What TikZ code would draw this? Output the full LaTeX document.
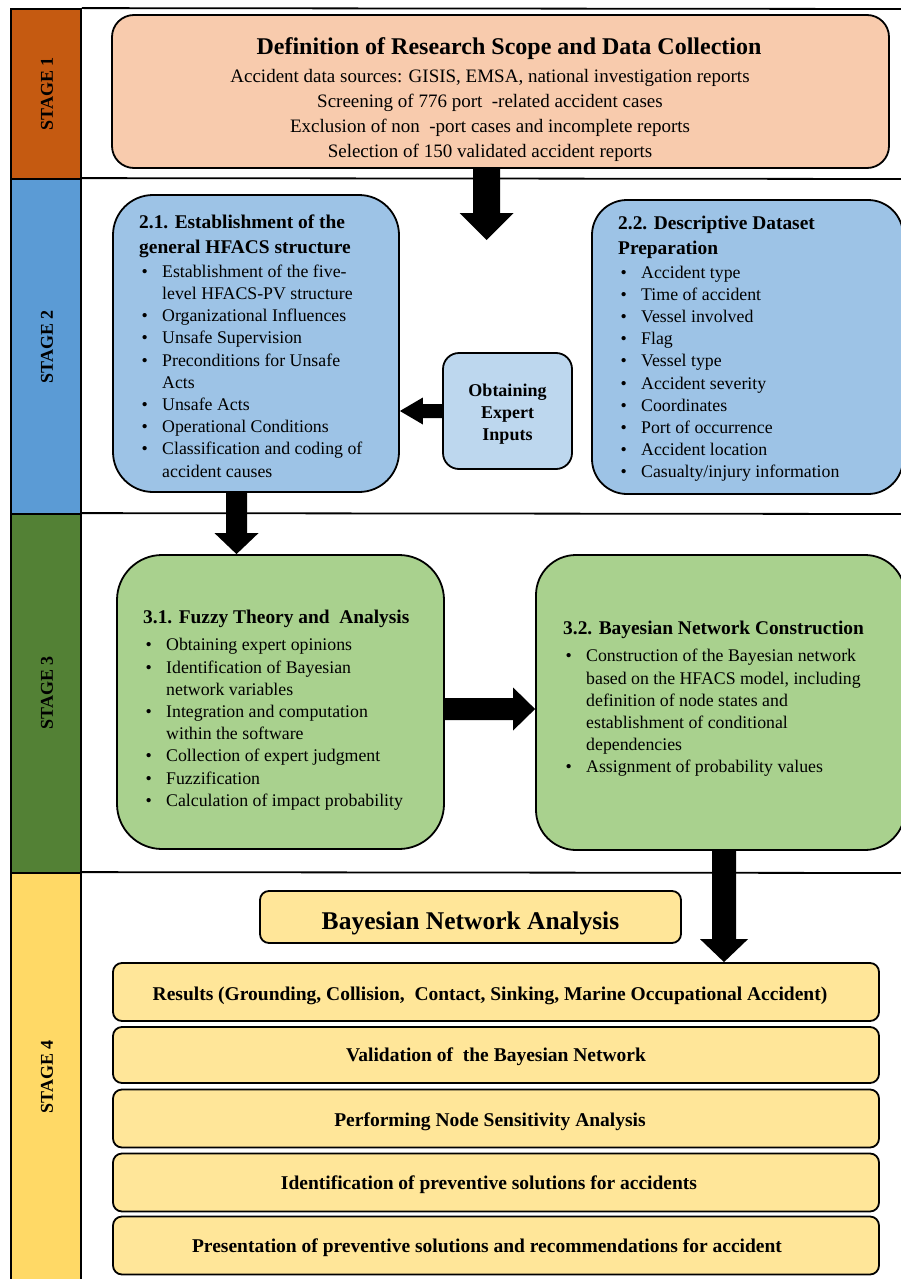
\documentclass[tikz,border=0pt]{standalone}
\usepackage{fontspec}
\setmainfont{Liberation Serif}
\usetikzlibrary{calc}
\definecolor{sonecol}{HTML}{C55A11}
\definecolor{stwocol}{HTML}{5B9BD5}
\definecolor{sthreecol}{HTML}{538135}
\definecolor{sfourcol}{HTML}{FFD966}
\definecolor{onebox}{HTML}{F8CBAD}
\definecolor{twobox}{HTML}{9DC3E6}
\definecolor{obbox}{HTML}{BDD7EE}
\definecolor{threebox}{HTML}{A9D18E}
\definecolor{fourbox}{HTML}{FFE699}
\newcommand{\bulletmark}{\makebox[23pt][l]{\hspace{2.5pt}\textbullet}}
\newcommand{\bulletcont}{\hspace*{23pt}}
\newcommand{\boxtitle}{\fontsize{19.4}{22.2}\selectfont\bfseries}
% block arrows: start, tip, shaft half width, head half width, head length
\newcommand{\blkarrowdown}[5]{\fill ($(#1)+(-#3,0)$) -- ($(#2)+(-#3,-#5)$) -- ($(#2)+(-#4,-#5)$) -- (#2) -- ($(#2)+(#4,-#5)$) -- ($(#2)+(#3,-#5)$) -- ($(#1)+(#3,0)$) -- cycle;}
\newcommand{\blkarrowright}[5]{\fill ($(#1)+(0,-#3)$) -- ($(#2)+(-#5,-#3)$) -- ($(#2)+(-#5,-#4)$) -- (#2) -- ($(#2)+(-#5,#4)$) -- ($(#2)+(-#5,#3)$) -- ($(#1)+(0,#3)$) -- cycle;}
\newcommand{\blkarrowleft}[5]{\fill ($(#1)+(0,-#3)$) -- ($(#2)+(#5,-#3)$) -- ($(#2)+(#5,-#4)$) -- (#2) -- ($(#2)+(#5,#4)$) -- ($(#2)+(#5,#3)$) -- ($(#1)+(0,#3)$) -- cycle;}
\begin{document}
\begin{tikzpicture}[x=1pt,y=-1pt,
  frame/.style={line width=1.8pt},
  stagecol/.style={draw=black, line width=1.8pt, inner sep=0pt, minimum width=70pt},
  stagelabel/.style={rotate=90, inner sep=0pt, font=\fontsize{18}{20}\selectfont\bfseries},
  roundbox/.style={draw=black, line width=1.8pt, inner sep=0pt},
  listtext/.style={inner sep=0pt, align=left, anchor=north west, font=\fontsize{17.8}{22.2}\selectfont},
  rowbox/.style={roundbox, fill=fourbox, rounded corners=9pt, minimum width=766pt},
  rowtext/.style={inner sep=0pt, font=\fontsize{19.5}{22}\selectfont\bfseries},
]
\useasboundingbox (0,0) rectangle (901,1279);
\fill[white] (0,0) rectangle (901,1279);

% stage columns
\node[stagecol, fill=sonecol, minimum height=170pt] (st1) at (46,94) {};
\node[stagecol, fill=stwocol, minimum height=335pt] (st2) at (46,346.5) {};
\node[stagecol, fill=sthreecol, minimum height=359pt] (st3) at (46,693.5) {};
\node[stagecol, fill=sfourcol, minimum height=417pt] (st4) at (46,1081.5) {};
\node[stagelabel] (l1) at (47,94) {STAGE 1};
\node[stagelabel] (l2) at (47,347) {STAGE 2};
\node[stagelabel] (l3) at (47,693) {STAGE 3};
\node[stagelabel] (l4) at (47,1077) {STAGE 4};

% separators
\draw[frame] (st1.north east) -- (905,9);
\draw[frame] (st2.north east) -- (905,179);
\draw[frame] (st3.north east) -- (905,514);
\draw[frame] (st4.north east) -- (905,873);

% stage 1
\node[roundbox, fill=onebox, rounded corners=22pt, minimum width=777pt, minimum height=153pt] (b1) at (500.5,91.5) {};
\node[inner sep=0pt, font=\fontsize{24}{28}\selectfont\bfseries] (t1) at (509,49) {Definition of Research Scope and Data Collection};
\node[inner sep=0pt, align=center, anchor=north, font=\fontsize{19}{25}\selectfont] (t1b) at (490,69) {Accident data sources: GISIS, EMSA, national investigation reports\\
Screening of 776 port\ \ -related accident cases\\
Exclusion of non\ \ -port cases and incomplete reports\\
Selection of 150 validated accident reports};

% stage 2
\node[roundbox, fill=twobox, rounded corners=40pt, minimum width=286pt, minimum height=297pt] (b21) at (256,343.5) {};
\node[listtext] (t21) at (139,215) {{\boxtitle 2.1. Establishment of the}\\[2pt]
{\boxtitle general HFACS structure}\\[2pt]
\bulletmark Establishment of the five-\\
\bulletcont level HFACS-PV structure\\
\bulletmark Organizational Influences\\
\bulletmark Unsafe Supervision\\
\bulletmark Preconditions for Unsafe\\
\bulletcont Acts\\
\bulletmark Unsafe Acts\\
\bulletmark Operational Conditions\\
\bulletmark Classification and coding of\\
\bulletcont accident causes};

\node[roundbox, fill=obbox, rounded corners=16pt, minimum width=129pt, minimum height=116pt] (ob) at (507.5,411) {};
\node[inner sep=0pt, align=center, font=\fontsize{18}{22}\selectfont\bfseries] (obt) at (507.5,414) {Obtaining\\Expert\\Inputs};

\node[roundbox, fill=twobox, rounded corners=35pt, minimum width=311pt, minimum height=294pt] (b22) at (747.5,347) {};
\node[listtext] (t22) at (618,216) {{\boxtitle 2.2. Descriptive Dataset}\\[3pt]
{\boxtitle Preparation}\\[1pt]
\bulletmark Accident type\\
\bulletmark Time of accident\\
\bulletmark Vessel involved\\
\bulletmark Flag\\
\bulletmark Vessel type\\
\bulletmark Accident severity\\
\bulletmark Coordinates\\
\bulletmark Port of occurrence\\
\bulletmark Accident location\\
\bulletmark Casualty/injury information};

% stage 3
\node[roundbox, fill=threebox, rounded corners=45pt, minimum width=327pt, minimum height=294pt] (b31) at (280.5,702) {};
\node[listtext] (t31) at (143,610) {{\boxtitle 3.1. Fuzzy Theory and\ \ Analysis}\\[5pt]
\bulletmark Obtaining expert opinions\\
\bulletmark Identification of Bayesian\\
\bulletcont network variables\\
\bulletmark Integration and computation\\
\bulletcont within the software\\
\bulletmark Collection of expert judgment\\
\bulletmark Fuzzification\\
\bulletmark Calculation of impact probability};

\node[roundbox, fill=threebox, rounded corners=40pt, minimum width=369pt, minimum height=295pt] (b32) at (720.5,702.5) {};
\node[listtext] (t32) at (563,621) {{\boxtitle 3.2. Bayesian Network Construction}\\[5pt]
\bulletmark Construction of the Bayesian network\\
\bulletcont based on the HFACS model, including\\
\bulletcont definition of node states and\\
\bulletcont establishment of conditional\\
\bulletcont dependencies\\
\bulletmark Assignment of probability values};

% stage 4
\node[roundbox, fill=fourbox, rounded corners=9pt, minimum width=421pt, minimum height=52pt] (bna) at (470.5,917) {};
\node[inner sep=0pt, font=\fontsize{25.5}{28}\selectfont\bfseries] (bnat) at (470.5,923) {Bayesian Network Analysis};
\node[rowbox, minimum height=58pt] (r1) at (496,992) {};
\node[rowbox, minimum height=56pt] (r2) at (496,1055) {};
\node[rowbox, minimum height=58pt] (r3) at (496,1118.5) {};
\node[rowbox, minimum height=58pt] (r4) at (496,1182.5) {};
\node[rowbox, minimum height=58pt] (r5) at (496,1245.5) {};
\node[rowtext] (r1t) at (490,996) {Results (Grounding, Collision,\ \ Contact, Sinking, Marine Occupational Accident)};
\node[rowtext] (r2t) at (496,1057) {Validation of\ \ the Bayesian Network};
\node[rowtext] (r3t) at (490,1122) {Performing Node Sensitivity Analysis};
\node[rowtext] (r4t) at (489,1185) {Identification of preventive solutions for accidents};
\node[rowtext] (r5t) at (487,1248) {Presentation of preventive solutions and recommendations for accident};

% arrows
\coordinate (a1s) at (486.5,0 |- b1.south);
\coordinate (a1e) at (486.5,240);
\blkarrowdown{a1s}{a1e}{13.5}{27}{27}
\coordinate (a2s) at (236.5,0 |- b21.south);
\coordinate (a2e) at (236.5,0 |- b31.north);
\blkarrowdown{a2s}{a2e}{10.5}{22}{21}
\coordinate (a3s) at (b31.east |- 0,709);
\coordinate (a3e) at (b32.west |- 0,709);
\blkarrowright{a3s}{a3e}{11}{21.5}{22}
\coordinate (a4s) at (724,0 |- b32.south);
\coordinate (a4e) at (724,0 |- r1.north);
\blkarrowdown{a4s}{a4e}{12}{24}{23}
\coordinate (a5s) at (ob.west |- 0,411);
\coordinate (a5e) at (b21.east |- 0,411);
\blkarrowleft{a5s}{a5e}{7}{13.5}{23}
\end{tikzpicture}
\end{document}
